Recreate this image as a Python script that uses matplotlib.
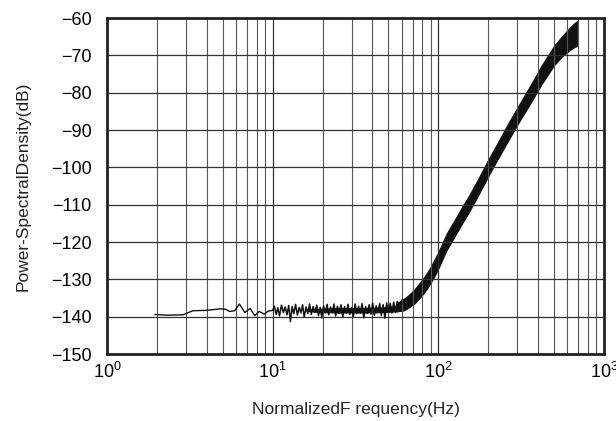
import numpy as np
import matplotlib
matplotlib.use("Agg")
import matplotlib.pyplot as plt

plt.rcParams['font.family'] = ['Liberation Sans', 'DejaVu Sans']
plt.rcParams['mathtext.fontset'] = 'custom'
plt.rcParams['mathtext.rm'] = 'Liberation Sans'
plt.rcParams['mathtext.it'] = 'Liberation Sans:italic'

# low frequency part (thin trace)
f_low = [1.95, 2.3, 2.87, 3.3, 4.0, 4.8, 5.2, 5.5, 5.9, 6.3, 6.8, 7.3, 7.8, 8.3, 8.9, 9.4, 10.0]
psd_low = [-139.4, -139.6, -139.5, -138.4, -138.3, -137.9, -138.0, -138.6, -138.4,
           -136.6, -138.9, -137.8, -139.7, -138.6, -139.3, -138.5, -138.3]

# noisy flat part (trace read point by point)
f_flat = [10, 10.25, 10.5, 10.75, 11, 11.3, 11.6, 11.9, 12.2, 12.5,
          12.8, 13.1, 13.4, 13.75, 14.1, 14.45, 14.8, 15.15, 15.5, 15.9,
          16.3, 16.7, 17.1, 17.55, 18, 18.45, 18.9, 19.35, 19.8, 20.3,
          20.8, 21.3, 21.8, 22.35, 22.9, 23.45, 24, 24.6, 25.2, 25.85,
          26.5, 27.15, 27.8, 28.5, 29.2, 29.95, 30.7, 31.45, 32.2, 33,
          33.8, 34.65, 35.5, 36.4, 37.3, 38.25, 39.2, 40.15, 41.1, 42.15,
          43.2, 44.25, 45.3, 46.45, 47.6, 48.8, 50, 51.25, 52.5, 53.8,
          55.1, 56.5, 58, 60]
psd_flat = [-138.3, -137.2, -139.4, -137.6, -139.8, -136.9, -138.9, -137.4, -139.5, -137.0,
            -141.3, -137.3, -139.2, -136.7, -139.6, -137.5, -139.0, -136.8, -140.1, -137.4,
            -139.1, -136.6, -139.4, -137.3, -138.9, -136.9, -139.7, -137.5, -140.3, -137.1,
            -139.0, -136.7, -139.5, -137.4, -138.9, -136.6, -139.8, -137.2, -139.1, -136.8,
            -140.1, -137.3, -139.0, -136.7, -139.4, -137.5, -140.0, -136.6, -139.2, -137.2,
            -139.0, -136.5, -140.3, -137.3, -139.1, -136.8, -139.3, -136.4, -139.6, -137.1,
            -138.9, -136.5, -139.7, -136.8, -140.4, -136.3, -138.8, -136.4, -139.0, -136.1,
            -138.9, -135.9, -138.4, -135.6]

# dense core of the flat noise
f_core = [16, 20, 25, 30, 35, 40, 45, 50, 56]
core_lo = [-138.5, -138.8, -138.9, -138.9, -138.9, -138.9, -138.8, -138.7, -138.6]
core_hi = [-138.0, -137.8, -137.7, -137.7, -137.6, -137.6, -137.5, -137.4, -137.0]

# rising part: lower / upper envelope of the trace
f_rise = [56, 62, 67, 72, 77, 82, 88, 94, 100, 112, 125, 140, 152, 170, 201, 230, 268,
          310, 364, 420, 500, 560, 620, 660, 690]
psd_lo = [-138.6, -138.3, -137.4, -136.4, -135.0, -133.6, -131.6, -129.4, -127.1, -122.2,
          -118.6, -114.8, -112.2, -108.3, -102.2, -97.5, -92.3, -87.5, -82.4, -77.7,
          -72.6, -70.2, -68.6, -67.8, -67.4]
psd_hi = [-136.4, -135.2, -134.0, -132.6, -131.0, -129.4, -127.4, -125.0, -122.7, -117.8,
          -114.2, -110.4, -107.8, -103.9, -97.8, -93.1, -87.7, -82.9, -77.6, -72.7,
          -67.4, -64.8, -62.6, -61.4, -60.8]

fig = plt.figure(figsize=(6.16, 4.21), dpi=100)
ax = fig.add_axes([0.1737, 0.1591, 0.8068, 0.7979])

ax.plot(f_low, psd_low, color='#111111', lw=1.0)
ax.plot(f_flat, psd_flat, color='#111111', lw=1.1)
ax.fill_between(f_core, core_lo, core_hi, color='#111111', lw=0.6, edgecolor='#111111')
ax.fill_between(f_rise, psd_lo, psd_hi, color='#111111', lw=0.8, edgecolor='#111111')

ax.set_xscale('log')
ax.set_xlim(1, 1000)
ax.set_ylim(-150, -60)
ax.set_yticks(np.arange(-150, -59, 10))
ax.set_yticklabels([str(v).replace('-', '\u2212') for v in range(-150, -59, 10)])

ax.grid(which='major', color='#333333', lw=0.9)
ax.grid(which='minor', axis='x', color='#555555', lw=0.8)
ax.tick_params(which='both', length=0, labelsize=13)
ax.tick_params(axis='y', pad=11)
ax.tick_params(axis='x', pad=6)
for s in ax.spines.values():
    s.set_linewidth(2)
    s.set_color('#222222')

ax.set_xlabel('NormalizedF requency(Hz)', fontsize=12.5, color='#222222', labelpad=14)
ax.set_ylabel('Power-SpectralDensity(dB)', fontsize=12.5, color='#222222', labelpad=15)

fig.savefig('out.png', dpi=100)
